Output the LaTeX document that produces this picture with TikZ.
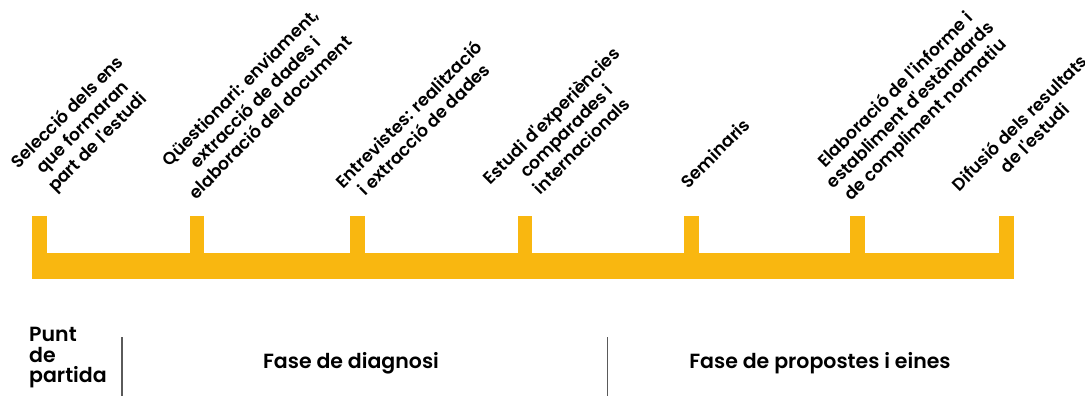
\documentclass[tikz,border=0pt]{standalone}
\usepackage{fontspec}
\newfontfamily\labfont{Poppins}[UprightFont={* SemiBold}]
\definecolor{baryellow}{RGB}{249,183,16}
\definecolor{sepgray}{RGB}{90,90,90}
\begin{document}
\begin{tikzpicture}[x=1pt,y=-1pt,
  lab/.style={rotate=45,align=center,inner sep=0pt,font=\labfont\fontsize{17.3}{21.2}\selectfont},
  phase/.style={inner sep=0pt,font=\labfont\fontsize{20.5}{20.5}\selectfont},
  sep/.style={draw=sepgray,line width=1.3pt}]
\useasboundingbox (0,0) rectangle (1085,396);
% comb bar
\fill[baryellow] (31.8,253.3) rectangle (1013.8,279.3);
\foreach \x in {31.8,189.6,350.2,517.6,684.4,849.8,999}{
  \fill[baryellow] (\x,216) rectangle ++(14.8,38);
}
% labels
\node[lab] (l1) at (83,128) {Selecció dels ens\\que formaran\\part de l'estudi};
\node[lab] (l2) at (255,102) {Qüestionari: enviament,\\extracció de dades i\\elaboració del document};
\node[lab] (l3) at (416,121.5) {Entrevistes: realització\\i extracció de dades};
\node[lab] (l4) at (566,130.5) {Estudi d'experiències\\comparades i\\internacionals};
\node[lab] (l5) at (715,153) {Seminaris};
\node[lab] (l6) at (911,105.5) {Elaboració de l'informe i\\establiment d'estàndards\\de compliment normatiu};
\node[lab] (l7) at (1026.5,130) {Difusió dels resultats\\de l'estudi};
% phases
\node[phase,align=left,anchor=north west] (p0) at (29,327) {Punt\\de\\partida};
\node[phase,anchor=base] (p1) at (351,368) {Fase de diagnosi};
\node[phase,anchor=base] (p2) at (820,368) {Fase de propostes i eines};
\coordinate (s1t) at (122,337);
\coordinate (s1b) at (122,396);
\coordinate (s2t) at (607.6,337);
\coordinate (s2b) at (607.6,396);
\draw[sep] (s1t) -- (s1b);
\draw[sep] (s2t) -- (s2b);
\end{tikzpicture}
\end{document}
